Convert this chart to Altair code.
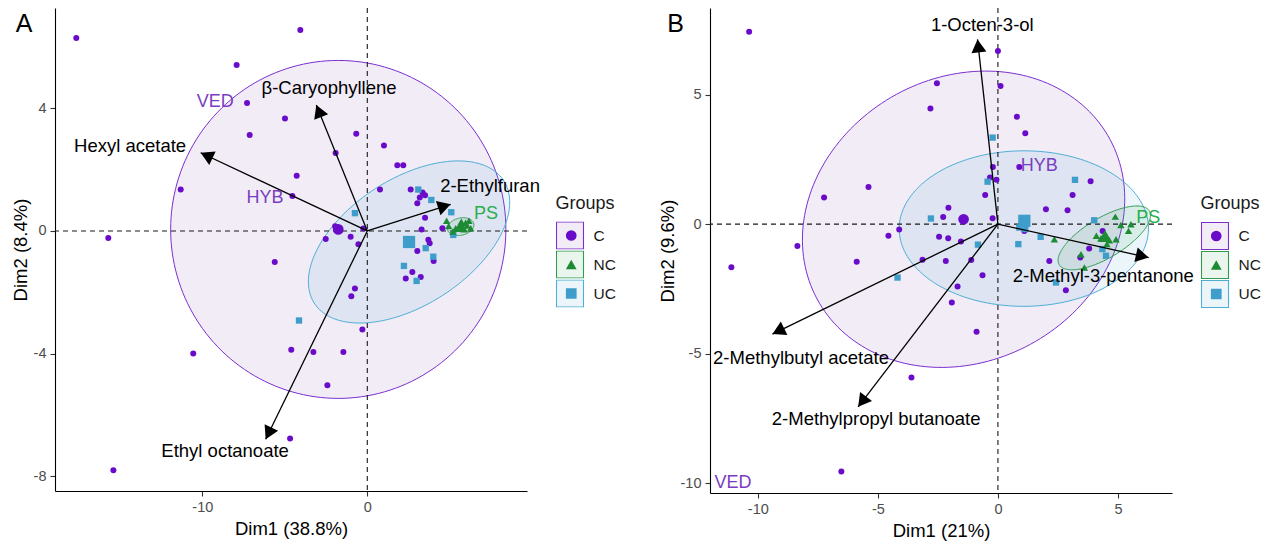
import math
import numpy as np
import pandas as pd
import altair as alt

FONT = "Liberation Sans"
GROUPS = ["C", "NC", "UC"]
GROUP_COLORS = ["#6A0BC9", "#1D8B34", "#3E9DCB"]
GROUP_SHAPES = ["circle", "triangle-up", "square"]
ELL_FILL_COLORS = ["#7341A5", "#2E9A4A", "#3E9DCB"]
ELL_STROKE_COLORS = ["#7B2FD0", "#2E9E4E", "#4EAED6"]
LEGEND_BOX_FILLS = ["#F1ECF6", "#EAF5ED", "#ECF5FA"]
LABEL_PURPLE = "#7A3CC0"
LABEL_GREEN = "#27AE4F"

# ---------------- Panel A data ----------------
A_C_x = [-17.64, -4.06, -7.92, -7.29, -4.99, -7.13, -4.28, -4.54, -11.31, -15.70, -5.61, -0.67, -1.92, 1.01,
         1.82, 2.18, 0.77, 2.63, 3.35, 3.50, 3.18, 3.03, 3.50, 3.29, 4.55, -2.52, -1.01, -0.54, -0.24, 3.70,
         3.78, 3.03, 4.02, 2.73, 2.33, 3.24, -0.75, -0.97, -0.30, -3.27, -1.45, -2.42, -10.55, -4.61, -4.68,
         -15.39, -1.95]
A_C_y = [6.29, 6.55, 5.41, 4.17, 3.67, 3.13, 1.80, 1.14, 1.35, -0.23, -1.01, 3.17, 2.54, 2.79,
         2.14, 2.14, 1.35, 1.35, 1.25, 1.16, 1.09, 0.90, 0.43, 0.05, 0.09, -0.26, -0.19, -0.43, 0.08, -0.29,
         -0.40, -0.65, -0.98, -1.34, -1.55, -1.50, -1.88, -2.13, -3.21, -3.95, -3.95, -5.03, -4.00, -3.87, -6.77,
         -7.80, 0.15]
A_UC_x = [-0.75, 3.09, 3.88, 5.09, 5.21, 3.54, 4.00, 2.22, 2.99, -4.14]
A_UC_y = [0.58, 1.35, 1.01, 0.61, -0.13, -0.56, -0.84, -1.14, -1.63, -2.92]
A_NC_x = [4.81, 5.96, 6.16, 6.27, 5.36, 5.86, 5.19, 4.93, 5.70, 6.05]
A_NC_y = [0.33, 0.27, 0.33, 0.09, 0.09, 0.05, -0.02, 0.16, 0.30, 0.18]
A_centroid_group = ["C", "NC", "UC"]
A_centroid_x = [-1.76, 5.66, 2.53]
A_centroid_y = [0.05, 0.16, -0.36]

# ellipses: centre, two conjugate semi-axis vectors
A_ell_group = ["C", "UC", "NC"]
A_ell_cx = [-1.76, 2.53, 5.66]
A_ell_cy = [0.05, -0.36, 0.14]
A_ell_ux = [10.16, 5.75, 0.80]
A_ell_uy = [0.0, 1.99, 0.08]
A_ell_vx = [0.0, 2.04, -0.06]
A_ell_vy = [5.51, -1.74, 0.28]

A_var_names = ["Hexyl acetate", "\u03b2-Caryophyllene", "2-Ethylfuran", "Ethyl octanoate"]
A_var_x = [-10.10, -3.09, 5.05, -6.16]
A_var_y = [2.55, 4.11, 0.87, -6.79]
A_var_lx = [-14.38, -2.32, 7.44, -8.62]
A_var_ly = [2.77, 4.66, 1.47, -7.17]

A_grp_names = ["VED", "HYB", "PS"]
A_grp_x = [-9.22, -6.20, 7.19]
A_grp_y = [4.21, 1.08, 0.55]
A_grp_col = [LABEL_PURPLE, LABEL_PURPLE, LABEL_GREEN]

A_xdom = [-18.93, 9.68]
A_ydom = [-8.48, 7.27]
A_xticks = [-10, 0]
A_yticks = [-8, -4, 0, 4]

# ---------------- Panel B data ----------------
B_C_x = [-10.36, -2.54, -2.81, -5.39, -7.24, -2.06, -2.28, -4.11, -4.56, -2.45, -2.07, -8.35, -11.10, -5.88,
         -3.14, -2.17, -1.68, -1.92, -3.60, -6.52, 1.14, 0.89, -0.21, -0.33, -0.06, -0.53, -0.22, -1.54, -1.11,
         -0.64, 0.00, 0.11, 0.79, 3.86, 3.11, 2.00, 2.90, 1.10, 2.14, 2.83, -0.89, 4.36, 3.80, 3.43]
B_C_y = [7.43, 5.44, 4.46, 1.43, 1.03, 0.63, 0.28, -0.21, -0.45, -0.49, -0.54, -0.84, -1.66, -1.45,
         -1.37, -1.42, -2.41, -3.02, -5.92, -9.54, 3.51, 2.21, 2.21, 1.80, 1.71, 1.13, 0.23, -0.67, -1.38,
         -1.97, 6.68, 5.33, 4.15, 1.66, 1.13, 0.58, 0.54, -0.26, -1.42, -2.55, -4.15, -0.26, -0.94, -1.29]
B_UC_x = [-2.79, -4.18, -0.22, -0.43, -0.83, 0.89, 1.14, 1.78, 0.85, 3.21, 2.42, 4.01, 4.35, 4.50]
B_UC_y = [0.22, -2.06, 3.34, 1.64, -0.79, -0.13, -0.19, -0.49, -0.77, 1.71, -2.25, 0.15, -0.96, -1.22]
B_NC_x = [4.89, 5.12, 5.54, 5.44, 4.29, 4.64, 4.92, 4.54, 3.46, 2.35, 3.60, 4.10]
B_NC_y = [0.29, -0.03, 0.00, -0.26, -0.54, -0.62, -0.58, -0.77, -1.16, -0.58, -1.67, -0.45]
B_centroid_group = ["C", "NC", "UC"]
B_centroid_x = [-1.43, 4.46, 1.10]
B_centroid_y = [0.19, -0.46, 0.13]

B_ell_group = ["C", "UC", "NC"]
B_ell_cx = [-1.43, 1.08, 4.43]
B_ell_cy = [0.19, -0.17, -0.53]
B_ell_ux = [6.70, 5.19, 1.875]
B_ell_uy = [0.45, -0.05, 1.04]
B_ell_vx = [0.40, 0.10, 0.43]
B_ell_vy = [5.70, 3.00, -0.66]

B_var_names = ["1-Octen-3-ol", "2-Methyl-3-pentanone", "2-Methylbutyl acetate", "2-Methylpropyl butanoate"]
B_var_x = [-0.85, 6.28, -9.39, -5.82]
B_var_y = [7.13, -1.29, -4.24, -7.05]
B_var_lx = [-0.65, 4.39, -8.20, -5.07]
B_var_ly = [7.68, -1.99, -5.16, -7.51]

B_grp_names = ["VED", "HYB", "PS"]
B_grp_x = [-11.03, 1.72, 6.26]
B_grp_y = [-9.98, 2.25, 0.24]
B_grp_col = [LABEL_PURPLE, LABEL_PURPLE, LABEL_GREEN]

B_xdom = [-11.99, 7.25]
B_ydom = [-10.374, 8.342]
B_xticks = [-10, -5, 0, 5]
B_yticks = [-10, -5, 0, 5]


def points_frame(cx, cy, ux, uy, nx, ny, gg, gx, gy):
    rows = []
    for g, xs, ys in (("C", cx, cy), ("UC", ux, uy), ("NC", nx, ny)):
        for a, b in zip(xs, ys):
            rows.append({"x": a, "y": b, "Group": g, "sz": {"C": 36, "NC": 55, "UC": 40}[g]})
    for g, a, b in zip(gg, gx, gy):
        rows.append({"x": a, "y": b, "Group": g, "sz": {"C": 115, "NC": 190, "UC": 150}[g]})
    return pd.DataFrame(rows)


def ellipse_frame(groups, cx, cy, ux, uy, vx, vy):
    rows = []
    t = np.linspace(0, 2 * math.pi, 181)
    for g, a, b, p, q, r, s in zip(groups, cx, cy, ux, uy, vx, vy):
        for i, tt in enumerate(t):
            rows.append({"x": a + p * math.cos(tt) + r * math.sin(tt),
                         "y": b + q * math.cos(tt) + s * math.sin(tt),
                         "grp": g, "i": i})
    return pd.DataFrame(rows)


def panel(pts, ell, gg, gx, gy, vnames, vx, vy, vlx, vly, gnames, glx, gly, gcol,
          xdom, ydom, xticks, yticks, w, h, xtitle, ytitle, tag, tag_dx, legx, legy):
    xs = alt.Scale(domain=xdom, nice=False, zero=False)
    ys = alt.Scale(domain=ydom, nice=False, zero=False)
    lab = "'' + datum.value"
    xax = alt.Axis(values=xticks, title=xtitle, labelFlush=False, grid=False, labelExpr=lab)
    yax = alt.Axis(values=yticks, title=ytitle, labelFlush=False, grid=False, labelExpr=lab)
    ppx = w / (xdom[1] - xdom[0])
    ppy = h / (ydom[1] - ydom[0])

    box_legend = alt.Legend(title="Groups", orient="none", legendX=legx, legendY=legy,
                            symbolType="square", symbolSize=729, symbolOpacity=1, symbolStrokeWidth=1.1,
                            clipHeight=28, rowPadding=1,
                            labelOffset=9, padding=0, titlePadding=9, zindex=0,
                            labelFont=FONT, labelFontSize=15.5, labelColor="#1A1A1A",
                            titleFont=FONT, titleFontSize=18, titleFontWeight="normal", titleColor="#1A1A1A")
    pt_legend = alt.Legend(title=" ", orient="none", legendX=legx, legendY=legy,
                           symbolSize=115, clipHeight=28, rowPadding=1, symbolOffset=8,
                           labelOffset=9, padding=0, titlePadding=9, zindex=1,
                           labelExpr="''", labelFont=FONT, labelFontSize=15.5,
                           titleFont=FONT, titleFontSize=18, titleFontWeight="normal")

    ell_layer = alt.Chart(ell).mark_line(strokeWidth=1, fillOpacity=0.1, strokeOpacity=1).encode(
        x=alt.X("x:Q", scale=xs, axis=xax),
        y=alt.Y("y:Q", scale=ys, axis=yax),
        order="i:Q",
        fill=alt.Fill("grp:N", scale=alt.Scale(range=ELL_FILL_COLORS), legend=None),
        stroke=alt.Stroke("grp:N", scale=alt.Scale(range=ELL_STROKE_COLORS), legend=None),
    )

    # invisible marks at the group means that only carry the legend's key boxes
    key_df = pd.DataFrame({"Group": gg, "x": gx, "y": gy})
    key_layer = alt.Chart(key_df).mark_square(opacity=0, size=4).encode(
        x=alt.X("x:Q", scale=xs, axis=xax),
        y=alt.Y("y:Q", scale=ys, axis=yax),
        fill=alt.Fill("Group:N", scale=alt.Scale(range=LEGEND_BOX_FILLS), legend=box_legend),
        stroke=alt.Stroke("Group:N", scale=alt.Scale(range=ELL_STROKE_COLORS), legend=box_legend),
    )

    zero = pd.DataFrame({"v": [0.0]})
    vline = alt.Chart(zero).mark_rule(strokeDash=[5, 4], strokeWidth=1.1, color="#1A1A1A").encode(
        x=alt.X("v:Q", scale=xs, axis=xax))
    hline = alt.Chart(zero).mark_rule(strokeDash=[5, 4], strokeWidth=1.1, color="#1A1A1A").encode(
        y=alt.Y("v:Q", scale=ys, axis=yax))

    pts_layer = alt.Chart(pts).mark_point(filled=True, opacity=1).encode(
        x=alt.X("x:Q", scale=xs, axis=xax),
        y=alt.Y("y:Q", scale=ys, axis=yax),
        color=alt.Color("Group:N", scale=alt.Scale(range=GROUP_COLORS), legend=pt_legend),
        shape=alt.Shape("Group:N", scale=alt.Scale(range=GROUP_SHAPES), legend=pt_legend),
        size=alt.Size("sz:Q", scale=None, legend=None),
    )

    head_off = 6.5
    rows = []
    for n, tx, ty, lx, ly in zip(vnames, vx, vy, vlx, vly):
        dxp, dyp = tx * ppx, ty * ppy
        L = math.hypot(dxp, dyp)
        ang = math.degrees(math.atan2(dxp, dyp)) % 360
        rows.append({"name": n, "x0": 0.0, "y0": 0.0, "tx": tx, "ty": ty,
                     "hx": tx - head_off * dxp / L / ppx, "hy": ty - head_off * dyp / L / ppy,
                     "ang": ang, "lx": lx, "ly": ly})
    arr = pd.DataFrame(rows)
    rules = alt.Chart(arr).mark_rule(color="black", strokeWidth=1.3).encode(
        x=alt.X("x0:Q", scale=xs, axis=xax), y=alt.Y("y0:Q", scale=ys, axis=yax),
        x2="tx:Q", y2="ty:Q")
    heads = alt.Chart(arr).mark_point(shape="triangle-up", filled=True, color="black", opacity=1, size=225).encode(
        x=alt.X("hx:Q", scale=xs, axis=xax), y=alt.Y("hy:Q", scale=ys, axis=yax),
        angle=alt.Angle("ang:Q", scale=None))
    vlabels = alt.Chart(arr).mark_text(font=FONT, fontSize=18.5, color="black").encode(
        x=alt.X("lx:Q", scale=xs, axis=xax), y=alt.Y("ly:Q", scale=ys, axis=yax), text="name:N")

    glayers = []
    for n, a, b, c in zip(gnames, glx, gly, gcol):
        glayers.append(alt.Chart(pd.DataFrame({"n": [n], "x": [a], "y": [b]})).mark_text(
            font=FONT, fontSize=18, color=c).encode(
            x=alt.X("x:Q", scale=xs, axis=xax), y=alt.Y("y:Q", scale=ys, axis=yax), text="n:N"))

    tag_layer = alt.Chart(pd.DataFrame({"t": [tag]})).mark_text(
        font=FONT, fontSize=25, color="black", align="center", baseline="middle").encode(
        text="t:N", x=alt.value(tag_dx), y=alt.value(15.5))

    return alt.layer(ell_layer, key_layer, vline, hline, pts_layer, rules, heads, vlabels, *glayers,
                     tag_layer).resolve_scale(fill="independent", stroke="independent").properties(
        width=w, height=h)


ptsA = points_frame(A_C_x, A_C_y, A_UC_x, A_UC_y, A_NC_x, A_NC_y, A_centroid_group, A_centroid_x, A_centroid_y)
ellA = ellipse_frame(A_ell_group, A_ell_cx, A_ell_cy, A_ell_ux, A_ell_uy, A_ell_vx, A_ell_vy)
ptsB = points_frame(B_C_x, B_C_y, B_UC_x, B_UC_y, B_NC_x, B_NC_y, B_centroid_group, B_centroid_x, B_centroid_y)
ellB = ellipse_frame(B_ell_group, B_ell_cx, B_ell_cy, B_ell_ux, B_ell_uy, B_ell_vx, B_ell_vy)

panelA = panel(ptsA, ellA, A_centroid_group, A_centroid_x, A_centroid_y,
               A_var_names, A_var_x, A_var_y, A_var_lx, A_var_ly,
               A_grp_names, A_grp_x, A_grp_y, A_grp_col,
               A_xdom, A_ydom, A_xticks, A_yticks, 472, 483, "Dim1 (38.8%)", "Dim2 (8.4%)", "A", -31, 500.5, 186.5)
panelB = panel(ptsB, ellB, B_centroid_group, B_centroid_x, B_centroid_y,
               B_var_names, B_var_x, B_var_y, B_var_lx, B_var_ly,
               B_grp_names, B_grp_x, B_grp_y, B_grp_col,
               B_xdom, B_ydom, B_xticks, B_yticks, 462, 485, "Dim1 (21%)", "Dim2 (9.6%)", "B", -34.5, 490.5, 187)

chart = alt.hconcat(panelA, panelB, spacing=183, bounds="flush").resolve_scale(
    color="independent", fill="independent", stroke="independent", shape="independent"
).resolve_legend(
    color="independent", fill="independent", stroke="independent", shape="independent"
).properties(
    padding={"left": 11, "top": 7, "right": 5, "bottom": 4}
).configure_axis(
    domainColor="#000000", domainWidth=1.1, tickColor="#333333", tickWidth=1.1, tickSize=5,
    labelColor="#4D4D4D", labelFont=FONT, labelFontSize=14.5, labelPadding=4,
    titleFont=FONT, titleFontSize=18.5, titleFontWeight="normal", titleColor="#000000", grid=False
).configure_axisX(titlePadding=6).configure_axisY(titlePadding=3).configure_view(stroke=None)

chart.save("out.html", embed_options={"renderer": "svg", "actions": False})
